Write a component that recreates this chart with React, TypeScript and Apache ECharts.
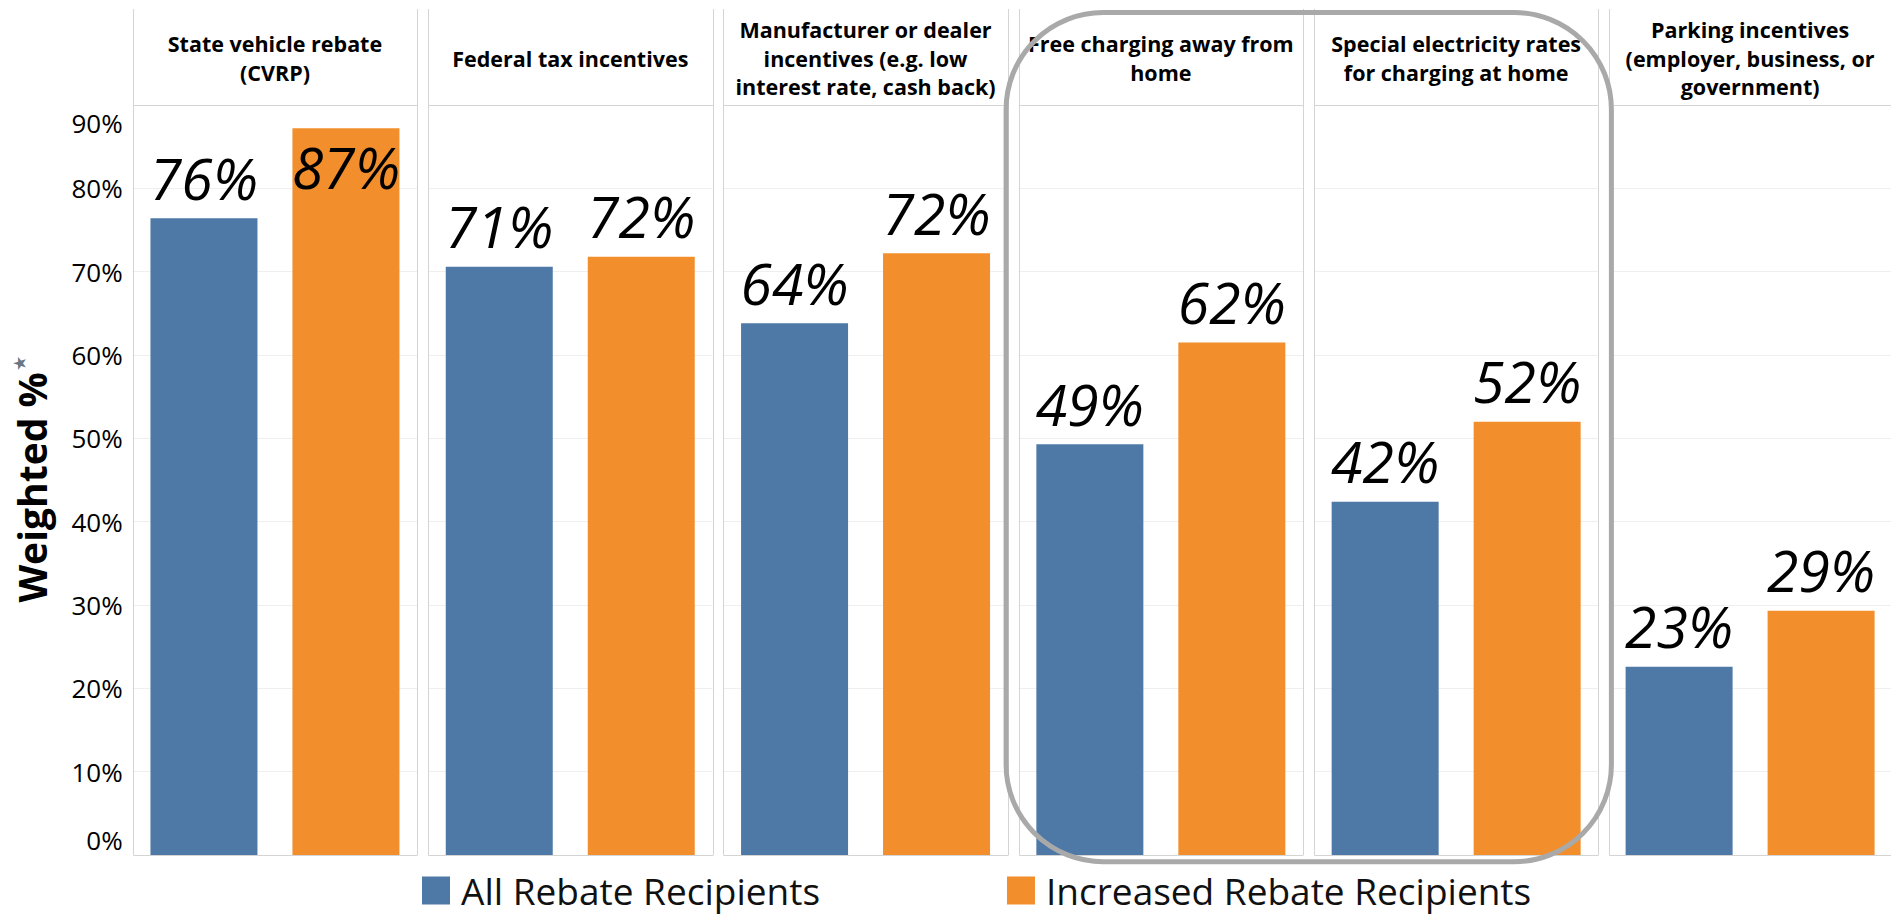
import React, { useEffect, useRef } from "react";
import * as echarts from "echarts";

// ---- data ----
const categories = [
  "State vehicle rebate\n(CVRP)",
  "Federal tax incentives",
  "Manufacturer or dealer\nincentives (e.g. low\ninterest rate, cash back)",
  "Free charging away from\nhome",
  "Special electricity rates\nfor charging at home",
  "Parking incentives\n(employer, business, or\ngovernment)",
];
const seriesNames = ["All Rebate Recipients", "Increased Rebate Recipients"];
const allRebate = [76.4, 70.6, 63.8, 49.3, 42.4, 22.6];
const increasedRebate = [87.2, 71.8, 72.2, 61.5, 52.0, 29.3];
const yMin = 0;
const yMax = 90;
const yInterval = 10;
const colors = ["#4e79a7", "#f28e2b"];
const yTitle = "Weighted %";

// ---- layout ----
const W = 1891;
const H = 916;
const PANEL_LEFT0 = 132.7;
const PANEL_PITCH = 295.3;
const PANEL_W = 284.5;
const HEADER_TOP = 9;
const PLOT_TOP = 105;
const PLOT_BOTTOM = 855;
const FONT = "'Open Sans', 'Noto Sans', sans-serif";

export default function App() {
  const ref = useRef<HTMLDivElement>(null);
  useEffect(() => {
    if (!ref.current) return;
    const chart = echarts.init(ref.current, null, { renderer: "svg" });
    const n = categories.length;
    const grids: any[] = [];
    const xAxes: any[] = [];
    const yAxes: any[] = [];
    const series: any[] = [];
    const graphics: any[] = [];
    const lineStyle = { stroke: "#d4d4d4", lineWidth: 1 };

    for (let i = 0; i < n; i++) {
      const left = PANEL_LEFT0 + i * PANEL_PITCH;
      grids.push({
        left,
        top: PLOT_TOP,
        width: PANEL_W,
        height: PLOT_BOTTOM - PLOT_TOP,
        show: false,
      });
      xAxes.push({
        type: "category",
        gridIndex: i,
        position: "top",
        data: [categories[i]],
        axisLine: { show: false },
        axisTick: { show: false },
        axisLabel: {
          interval: 0,
          fontFamily: FONT,
          fontSize: 21.5,
          fontWeight: "bold",
          color: "#000",
          lineHeight: 28.5,
          verticalAlign: "middle",
          align: "center",
          margin: 47,
        },
      });
      yAxes.push({
        type: "value",
        gridIndex: i,
        min: yMin,
        max: yMax,
        interval: yInterval,
        name: i === 0 ? yTitle + "{s|★}" : "",
        nameLocation: "middle",
        nameRotate: 90,
        nameGap: 82,
        nameTextStyle: {
          fontFamily: FONT,
          fontSize: 39,
          fontWeight: "bold",
          color: "#000",
          rich: {
            s: { fontSize: 15, color: "#6b7785", verticalAlign: "top", padding: [0, 0, 18, 2] },
          },
        },
        axisLine: { show: false },
        axisTick: { show: false },
        splitLine: { show: true, lineStyle: { color: "#efefef", width: 1 } },
        axisLabel: {
          show: i === 0,
          showMaxLabel: true,
          showMinLabel: true,
          fontFamily: FONT,
          fontSize: 26,
          color: "#000",
          margin: 10,
          formatter: (v: number) =>
            v === yMax ? `{top|${v}%}` : v === yMin ? `{bot|${v}%}` : `${v}%`,
          rich: {
            top: { fontFamily: FONT, fontSize: 26, color: "#000", padding: [36, 0, 0, 0] },
            bot: { fontFamily: FONT, fontSize: 26, color: "#000", padding: [0, 0, 30, 0] },
          },
        },
      });
      const labelBase = {
        show: true,
        position: "top",
        distance: 12,
        fontFamily: FONT,
        fontSize: 57,
        fontStyle: "italic",
        color: "#000",
        formatter: (p: any) => `${Math.round(p.value)}%`,
      };
      const mk = (v: number) =>
        v > yMax - 10
          ? { value: v, label: { position: "insideTop", distance: 10 } }
          : { value: v };
      series.push({
        type: "bar",
        name: seriesNames[0],
        xAxisIndex: i,
        yAxisIndex: i,
        data: [mk(allRebate[i])],
        barWidth: 107,
        barGap: "32.7%",
        itemStyle: { color: colors[0] },
        label: labelBase,
      });
      series.push({
        type: "bar",
        name: seriesNames[1],
        xAxisIndex: i,
        yAxisIndex: i,
        data: [mk(increasedRebate[i])],
        barWidth: 107,
        barGap: "32.7%",
        itemStyle: { color: colors[1] },
        label: labelBase,
      });

      const xl = Math.round(left) + 0.5;
      const xr = Math.round(left + PANEL_W) + 0.5;
      graphics.push(
        { type: "line", z: 50, shape: { x1: xl, y1: HEADER_TOP, x2: xl, y2: PLOT_BOTTOM }, style: lineStyle, silent: true },
        { type: "line", z: 50, shape: { x1: xr, y1: HEADER_TOP, x2: xr, y2: PLOT_BOTTOM }, style: lineStyle, silent: true },
        { type: "line", z: 50, shape: { x1: xl, y1: PLOT_TOP + 0.5, x2: xr, y2: PLOT_TOP + 0.5 }, style: lineStyle, silent: true },
        { type: "line", z: 50, shape: { x1: xl, y1: PLOT_BOTTOM + 0.5, x2: xr, y2: PLOT_BOTTOM + 0.5 }, style: lineStyle, silent: true }
      );
    }

    // highlight box around panels 4 and 5
    const boxL = PANEL_LEFT0 + 3 * PANEL_PITCH - 12.5;
    const boxR = PANEL_LEFT0 + 4 * PANEL_PITCH + PANEL_W + 13;
    graphics.push({
      type: "rect",
      z: 100,
      silent: true,
      shape: { x: boxL, y: 12.5, width: boxR - boxL, height: 861.7 - 12.5, r: 97 },
      style: { fill: "none", stroke: "#a9a9a9", lineWidth: 5 },
    });

    const legendCommon = {
      orient: "horizontal",
      top: 872,
      padding: 0,
      itemWidth: 28,
      itemHeight: 28,
      icon: "rect",
      selectedMode: false,
      textStyle: {
        fontFamily: FONT,
        fontSize: 37,
        lineHeight: 36,
        color: "#111",
        padding: [0, 0, 0, 6],
      },
    };

    chart.setOption({
      animation: false,
      backgroundColor: "#fff",
      grid: grids,
      xAxis: xAxes,
      yAxis: yAxes,
      series,
      legend: [
        { ...legendCommon, left: 422, data: [seriesNames[0]] },
        { ...legendCommon, left: 1007, data: [seriesNames[1]] },
      ],
      graphic: graphics,
    });
    return () => chart.dispose();
  }, []);
  return (
    <div
      ref={ref}
      style={{ position: "fixed", left: 0, top: 0, width: W, height: H }}
    />
  );
}
